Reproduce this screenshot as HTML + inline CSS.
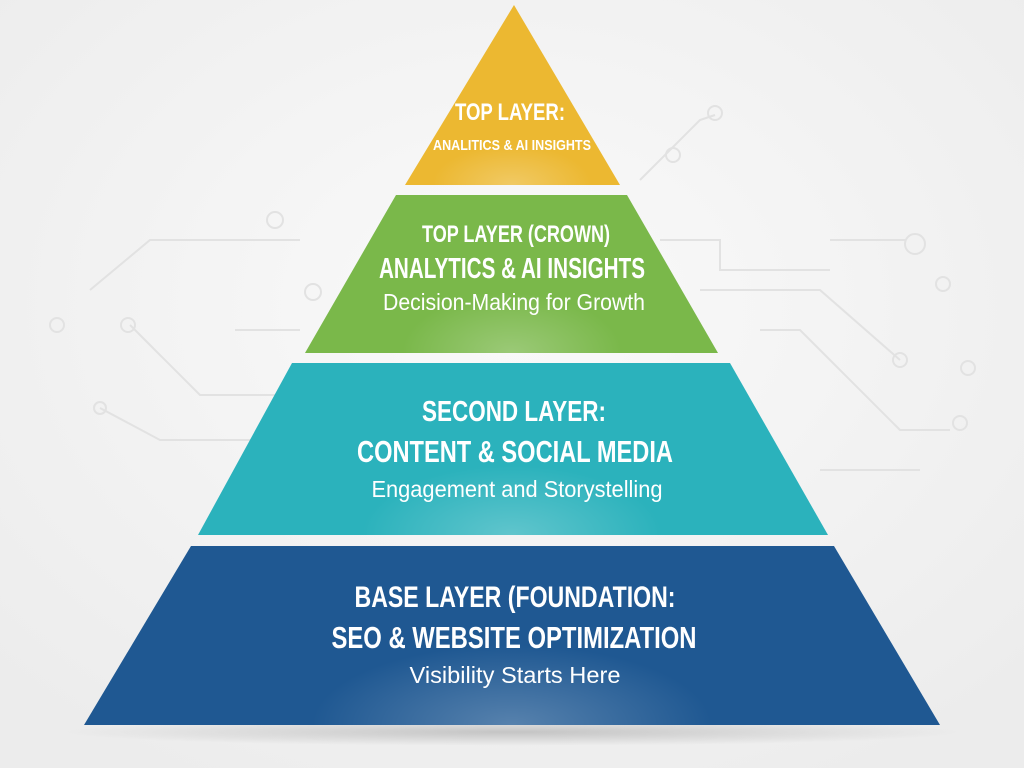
<!DOCTYPE html>
<html><head><meta charset="utf-8"><style>
html,body{margin:0;padding:0;background:#f3f3f3;}
svg{display:block}
</style></head><body>
<svg width="1024" height="768" viewBox="0 0 1024 768" xmlns="http://www.w3.org/2000/svg">
<defs>
<radialGradient id="bg" cx="50%" cy="40%" r="70%"><stop offset="0" stop-color="#fafafa"/><stop offset="1" stop-color="#ececec"/></radialGradient>
<radialGradient id="glow" cx="50%" cy="50%" r="50%"><stop offset="0" stop-color="#fff" stop-opacity="0.25"/><stop offset="1" stop-color="#fff" stop-opacity="0"/></radialGradient>
<radialGradient id="sh" cx="50%" cy="50%" r="50%"><stop offset="0" stop-color="#000" stop-opacity="0.18"/><stop offset="1" stop-color="#000" stop-opacity="0"/></radialGradient>
<clipPath id="c1"><polygon points="514,5 620,185 405,185"/></clipPath>
<clipPath id="c2"><polygon points="396,195 627,195 718,353 305,353"/></clipPath>
<clipPath id="c3"><polygon points="292,363 730,363 828,535 198,535"/></clipPath>
<clipPath id="c4"><polygon points="191,546 834,546 940,725 84,725"/></clipPath>
</defs>
<rect width="1024" height="768" fill="url(#bg)"/>
<g stroke="#e2e2e2" stroke-width="2" fill="none">
<path d="M90 290 L150 240 L300 240"/><circle cx="275" cy="220" r="8"/>
<path d="M130 325 L200 395 L300 395"/><circle cx="128" cy="325" r="7"/>
<path d="M100 408 L160 440 L300 440"/><circle cx="100" cy="408" r="6"/>
<circle cx="57" cy="325" r="7"/><circle cx="313" cy="292" r="8"/>
<path d="M640 180 L700 120 L715 115"/><circle cx="715" cy="113" r="7"/>
<path d="M660 240 L720 240 L720 270 L830 270"/><circle cx="673" cy="155" r="7"/>
<path d="M830 240 L905 240"/><circle cx="915" cy="244" r="10"/>
<path d="M700 290 L820 290 L900 360"/><circle cx="900" cy="360" r="7"/>
<path d="M760 330 L800 330 L900 430 L950 430"/><circle cx="960" cy="423" r="7"/>
<circle cx="968" cy="368" r="7"/><circle cx="943" cy="284" r="7"/>
<path d="M820 470 L920 470"/><path d="M235 330 L300 330"/>
</g>
<ellipse cx="512" cy="732" rx="450" ry="14" fill="url(#sh)"/>
<polygon points="514,5 620,185 405,185" fill="#ecb831"/>
<polygon points="396,195 627,195 718,353 305,353" fill="#7ab84a"/>
<polygon points="292,363 730,363 828,535 198,535" fill="#2bb2bc"/>
<polygon points="191,546 834,546 940,725 84,725" fill="#1f5892"/>
<ellipse cx="512" cy="185" rx="80" ry="40" fill="url(#glow)" clip-path="url(#c1)"/>
<ellipse cx="512" cy="353" rx="110" ry="60" fill="url(#glow)" clip-path="url(#c2)"/>
<ellipse cx="512" cy="535" rx="150" ry="70" fill="url(#glow)" clip-path="url(#c3)"/>
<ellipse cx="512" cy="725" rx="200" ry="80" fill="url(#glow)" clip-path="url(#c4)"/>
<g fill="#fff" font-family="Liberation Sans Narrow, Liberation Sans, sans-serif" text-anchor="middle">
<g font-weight="bold">
<text x="510" y="120" font-size="24" textLength="110" lengthAdjust="spacingAndGlyphs">TOP LAYER:</text>
<text x="512" y="150" font-size="15" textLength="158" lengthAdjust="spacingAndGlyphs">ANALITICS &amp; AI INSIGHTS</text>
<text x="516" y="242" font-size="24" textLength="188" lengthAdjust="spacingAndGlyphs">TOP LAYER (CROWN)</text>
<text x="512" y="278" font-size="29" textLength="266" lengthAdjust="spacingAndGlyphs">ANALYTICS &amp; AI INSIGHTS</text>
<text x="514" y="421" font-size="29" textLength="184" lengthAdjust="spacingAndGlyphs">SECOND LAYER:</text>
<text x="515" y="462" font-size="31" textLength="316" lengthAdjust="spacingAndGlyphs">CONTENT &amp; SOCIAL MEDIA</text>
<text x="515" y="607" font-size="30" textLength="321" lengthAdjust="spacingAndGlyphs">BASE LAYER (FOUNDATION:</text>
<text x="514" y="648" font-size="31" textLength="365" lengthAdjust="spacingAndGlyphs">SEO &amp; WEBSITE OPTIMIZATION</text>
</g>
<text x="514" y="310" font-size="23" textLength="262" lengthAdjust="spacingAndGlyphs">Decision-Making for Growth</text>
<text x="517" y="497" font-size="23" textLength="291" lengthAdjust="spacingAndGlyphs">Engagement and Storystelling</text>
<text x="515" y="683" font-size="23" textLength="211" lengthAdjust="spacingAndGlyphs">Visibility Starts Here</text>
</g>
</svg>
</body></html>
